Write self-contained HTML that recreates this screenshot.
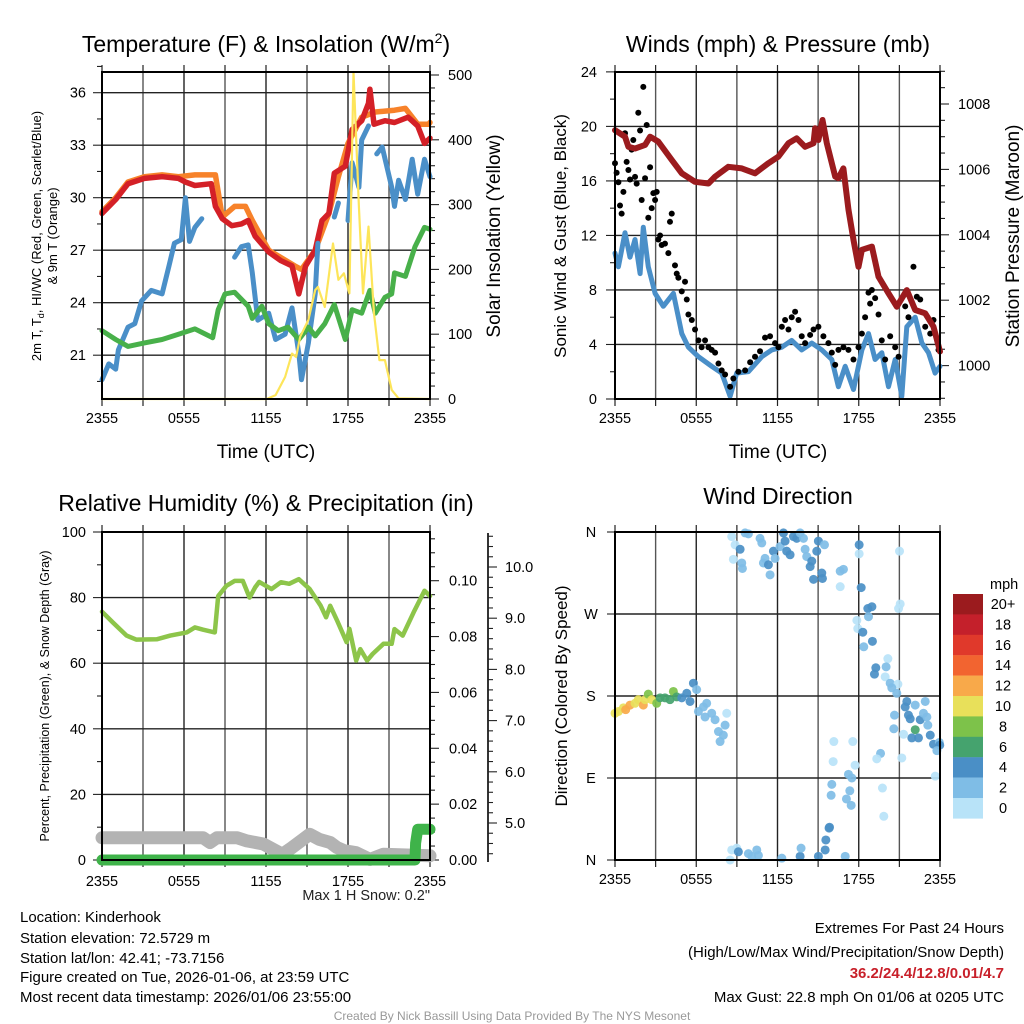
<!DOCTYPE html>
<html><head><meta charset="utf-8"><style>
html,body{margin:0;padding:0;background:#fff}
svg{display:block;font-family:"Liberation Sans",Arial,sans-serif}
</style></head><body>
<svg id="chart" xmlns="http://www.w3.org/2000/svg" width="1024" height="1024" viewBox="0 0 1024 1024">
<rect width="1024" height="1024" fill="#fff"/>
<g id="p1"></g>
<g id="p2"></g>
<g id="p3"></g>
<g id="p4"></g>
<text x="266" y="52" font-size="23" text-anchor="middle">Temperature (F) &amp; Insolation (W/m<tspan dy="-9" font-size="14">2</tspan><tspan dy="9">)</tspan></text>
<text x="778" y="52" font-size="23" text-anchor="middle">Winds (mph) &amp; Pressure (mb)</text>
<text x="266" y="511" font-size="23" text-anchor="middle">Relative Humidity (%) &amp; Precipitation (in)</text>
<text x="778" y="504" font-size="23" text-anchor="middle">Wind Direction</text>
<text x="266" y="458" font-size="19" text-anchor="middle">Time (UTC)</text>
<text x="778" y="458" font-size="19" text-anchor="middle">Time (UTC)</text>
<text transform="translate(41,236) rotate(-90)" font-size="13" text-anchor="middle"><tspan x="0" dy="0">2m T, T<tspan font-size="9" dy="3">d</tspan><tspan dy="-3">, HI/WC (Red, Green, Scarlet/Blue)</tspan></tspan><tspan x="0" dy="16">&amp; 9m T (Orange)</tspan></text>
<text transform="translate(500,236) rotate(-90)" font-size="19" text-anchor="middle">Solar Insolation (Yellow)</text>
<text transform="translate(566,236) rotate(-90)" font-size="17" text-anchor="middle">Sonic Wind &amp; Gust (Blue, Black)</text>
<text transform="translate(1019,236) rotate(-90)" font-size="19" text-anchor="middle">Station Pressure (Maroon)</text>
<text transform="translate(49,696) rotate(-90)" font-size="12.5" text-anchor="middle">Percent, Precipitation (Green), &amp; Snow Depth (Gray)</text>
<text transform="translate(567,696) rotate(-90)" font-size="17" text-anchor="middle">Direction (Colored By Speed)</text>
<text x="430" y="900" font-size="14.5" text-anchor="end" fill="#222">Max 1 H Snow: 0.2"</text>
<g font-size="15" fill="#000">
<text x="20" y="922">Location: Kinderhook</text>
<text x="20" y="943">Station elevation: 72.5729 m</text>
<text x="20" y="963">Station lat/lon: 42.41; -73.7156</text>
<text x="20" y="982">Figure created on Tue, 2026-01-06, at 23:59 UTC</text>
<text x="20" y="1002">Most recent data timestamp: 2026/01/06 23:55:00</text>
</g>
<g font-size="15" text-anchor="end">
<text x="1004" y="933">Extremes For Past 24 Hours</text>
<text x="1004" y="957">(High/Low/Max Wind/Precipitation/Snow Depth)</text>
<text x="1004" y="978" fill="#c8202a" font-weight="bold">36.2/24.4/12.8/0.01/4.7</text>
<text x="1004" y="1002">Max Gust: 22.8 mph On 01/06 at 0205 UTC</text>
</g>
<text x="512" y="1020" font-size="12" text-anchor="middle" fill="#999">Created By Nick Bassill Using Data Provided By The NYS Mesonet</text>
</svg>
<script>
// ---------- data ----------
const xTickLabels = ["2355","0555","1155","1755","2355"];
// Panel 1
const redH = [0,1,1.9,3.1,4.4,5.6,6.1,6.8,8.0,8.3,8.8,9.5,10.2,10.7,11.2,12.2,13.1,13.9,14.4,14.9,15.6,16.1,16.6,17.0,17.8,18.3,19.0,19.5,19.6,19.9,20.7,21.4,22.4,23.1,23.6,24];
const redT = [29.1,29.9,30.8,31.1,31.2,31.1,30.9,30.7,30.8,29.5,28.8,28.4,28.5,28.7,27.8,26.9,26.4,26.1,24.5,26.1,27.0,28.7,29.1,31.4,31.8,33.9,34.4,35.4,36.2,34.2,34.4,34.3,34.6,34.1,33.1,33.4];
const orangeH = [0,1,1.9,3.1,4.4,5.6,6.8,8.3,8.8,9.7,10.5,11.0,12.2,14.1,14.6,15.6,16.6,17.3,18.0,19.0,20.0,21.4,22.2,23.1,23.9,24];
const orangeT = [29.2,30.0,30.9,31.2,31.3,31.2,31.3,31.3,28.9,29.5,29.5,28.7,27.0,26.1,25.9,27.0,29.1,31.2,33.1,34.6,34.9,35.0,35.1,34.2,34.2,34.3];
const blueH = [0,0.5,1,1.2,1.9,2.4,2.9,3.6,4.4,4.9,5.3,5.8,6.1,6.4,6.8,7.3,null,9.7,10.2,10.7,11,11.4,12.2,12.7,13.4,13.9,14.4,14.6,15.1,15.6,15.8,null,17.0,17.3,null,18.0,18.3,18.8,19.0,19.5,null,20.1,20.5,21.2,21.4,21.7,22.2,22.7,23.1,23.6,24];
const blueT = [19.6,20.5,20.2,21.3,22.6,22.8,24.1,24.7,24.5,26.1,27.4,27.6,30.0,27.5,28.3,28.8,null,26.6,27.2,27.3,25.7,23.0,23.4,21.9,22.2,23.7,21.1,19.6,21.7,24.5,27.4,null,28.9,29.7,null,28.7,32.0,30.6,33.3,34.1,null,32.5,32.9,30.6,29.5,31.0,29.9,32.2,30.2,32.2,31.2];
const greenH = [0,1,1.9,3.1,4.4,5.6,6.8,8.1,8.5,9.0,9.7,10.2,10.7,11.0,11.7,12.2,12.9,13.6,14.4,15.1,15.6,16.3,17.0,17.8,18.3,19.0,19.6,20.0,20.7,21.2,21.4,22.2,22.9,23.6,24];
const greenT = [22.4,21.9,21.5,21.7,21.9,22.2,22.5,22.0,23.6,24.5,24.6,24.2,23.8,23.1,23.8,22.8,22.4,22.6,21.9,22.6,22.1,22.8,23.9,21.9,23.6,23.4,24.7,23.4,24.3,24.5,25.7,25.5,27.2,28.3,28.2];
const solarH = [0,12.05,12.7,13.4,13.9,14.2,14.5,15.1,15.6,15.8,16.3,16.9,17.3,17.7,18.1,18.4,18.8,19.1,19.5,19.9,20.3,20.7,21.2,21.7,24];
const solarW = [0,0,6,34,70,65,96,122,168,173,142,240,184,194,163,505,297,163,266,132,60,60,14,1,0];
// Panel 2
const windH = [0,0.25,0.74,1.11,1.48,1.85,2.09,2.46,2.96,3.57,4.31,4.93,5.42,6.16,7.14,7.88,8.5,8.99,9.85,10.84,11.58,12.32,13.05,13.79,14.53,15.27,16.01,16.5,17.0,17.61,18.23,18.72,19.21,19.7,20.2,20.69,21.18,21.55,22.17,22.66,23.15,23.64,24];
const windV = [10.7,9.7,12.2,10.4,11.7,9.2,12.6,9.7,7.75,6.8,7.75,4.8,3.8,3.1,2.4,1.9,0.2,1.9,2.0,3.1,3.6,3.8,4.3,3.6,4.1,3.6,2.9,0.9,2.4,0.7,3.6,4.8,2.9,3.4,0.9,2.9,0.2,5.3,6.0,4.1,3.4,1.9,2.4];
const gustH = [0,0.12,0.25,0.37,0.49,0.62,0.74,0.86,0.99,1.11,1.23,1.35,1.48,1.6,1.72,1.85,1.97,2.09,2.22,2.34,2.46,2.59,2.71,2.83,2.96,3.08,3.2,3.33,3.45,3.69,3.94,4.06,4.19,4.43,4.56,4.68,4.93,5.17,5.3,5.42,5.67,5.91,6.16,6.4,6.65,6.9,7.14,7.39,7.64,7.88,8.13,8.5,8.74,9.11,9.61,9.98,10.34,10.71,11.08,11.45,11.82,12.07,12.32,12.56,12.81,13.05,13.3,13.55,13.79,14.04,14.41,14.66,15.02,15.39,15.76,16.01,16.26,16.5,16.87,17.24,17.61,17.98,18.23,18.47,18.72,18.84,18.97,19.21,19.46,19.7,19.95,20.32,20.69,20.94,21.43,21.55,21.67,22.04,22.29,22.54,22.91,23.28,23.52,23.89];
const gustV = [17.3,16.6,15.9,14.2,13.6,15.2,19.5,17.4,16.8,16.1,18.3,19.0,16.3,15.8,21.0,19.7,14.6,22.9,16.2,20.1,13.3,17.0,14.0,15.1,14.6,15.2,11.7,12.0,11.3,11.4,10.7,13.0,13.6,9.8,9.2,8.9,7.9,8.6,7.3,6.2,5.8,5.1,4.3,3.8,4.3,3.8,3.6,3.4,2.6,2.1,1.8,0.9,1.5,2.0,2.1,2.7,3.1,3.5,4.5,4.6,4.1,3.8,5.3,5.8,5.1,6.0,6.4,5.8,4.6,4.1,4.7,5.1,5.3,4.6,4.1,3.4,2.5,3.6,3.8,3.6,2.9,3.8,4.8,6.0,7.8,7.0,8.0,7.4,6.2,4.3,2.9,4.6,3.8,3.1,6.8,7.8,6.0,9.7,7.5,7.3,5.3,4.8,5.8,3.6];
const presH = [0,0.74,0.99,1.48,2.22,2.59,3.2,4.19,4.93,5.91,6.9,7.39,8.37,9.36,10.34,11.33,12.07,12.81,13.42,14.04,14.66,14.78,15.02,15.32,15.64,16.26,16.5,16.87,17.24,17.61,17.98,18.23,18.97,19.46,20.2,20.81,21.55,22.17,22.91,23.52,24];
const presP = [1007.2,1007.0,1006.69,1006.64,1006.75,1007.0,1006.85,1006.29,1005.88,1005.62,1005.57,1005.78,1006.08,1006.03,1005.88,1006.19,1006.39,1006.8,1006.95,1006.69,1006.8,1007.26,1006.9,1007.51,1006.8,1005.78,1005.73,1006.03,1004.76,1003.84,1003.02,1003.54,1003.64,1002.72,1002.21,1001.8,1002.31,1001.7,1001.6,1001.19,1000.43];
// Panel 3
const rhH = [0,0.8,1.8,2.5,4.0,5.0,6.2,6.8,7.4,8.25,8.5,9.1,9.7,10.3,10.8,11.2,11.5,12.4,13.1,13.7,14.4,15.2,16.0,16.4,16.7,17.2,17.9,18.1,18.6,18.9,19.4,19.8,20.6,21.2,21.4,22.0,22.8,23.6,24];
const rhV = [75.7,72.4,68.4,67.2,67.3,68.4,69.4,70.9,70.2,69.4,80.5,83.6,85.1,85.1,80.0,83.1,84.8,82.6,84.7,84.2,85.6,82.6,77.5,74.0,77.5,73.0,66.4,70.5,60.8,64.3,60.8,62.8,65.9,65.9,70.4,68.4,75.5,82.1,80.5];
const snowH = [0,7.4,7.9,8.4,9.9,10.6,11.8,12.5,13.2,13.9,14.7,15.2,15.9,16.7,17.2,17.7,18.6,19.6,20.6,24];
const snowV = [4.71,4.71,4.62,4.71,4.71,4.65,4.59,4.49,4.39,4.52,4.68,4.78,4.68,4.62,4.52,4.46,4.42,4.29,4.39,4.36];
const precipH = [0,22.9,22.95,23.1,24];
const precipV = [0,0,0.006,0.011,0.011];
// Panel 4
const dirH = [0,0.25,0.62,0.79,1.11,1.48,1.72,2.09,2.22,2.46,2.71,3.08,3.33,3.69,4.06,4.31,4.56,4.93,5.3,5.54,5.79,6.03,6.16,6.53,6.77,6.65,7.14,7.39,7.64,7.76,8.0,8.13,8.25,
 8.5,8.62,8.99,9.11,9.85,10.1,10.47,10.59,12.32,13.67,13.74,15.02,15.52,15.57,15.81,17.0,
 8.62,8.87,8.74,9.24,9.36,9.41,9.61,9.85,10.71,10.84,10.96,11.08,11.33,11.45,11.7,11.82,12.19,12.44,12.56,12.68,12.93,13.18,13.42,13.67,13.92,14.04,14.16,14.41,14.53,14.66,14.9,15.02,15.27,15.32,15.47,16.63,16.87,16.63,18.03,18.03,18.18,21.01,
 18.67,18.97,18.72,17.86,17.93,18.3,19.01,18.37,21.06,20.94,20.15,20.02,19.26,19.16,19.95,20.32,20.89,20.44,20.81,21.55,21.43,22.17,22.91,20.64,21.67,21.8,22.54,22.78,23.03,23.1,20.59,21.31,22.17,21.92,22.41,23.28,23.52,23.95,23.98,23.77,23.65,
 16.16,17.56,16.11,17.73,17.24,17.49,19.61,19.33,21.18,16.01,15.96,17.34,17.09,17.44,19.75,19.85,15.84];
const dirDeg = [161,163,167,165,170,172,176,170,176,182,176,172,178,178,176,185,179,178,183,174,194,187,163,168,172,157,161,154,141,130,137,148,161,
 0,11,13,9,7,4,11,5,2,4,13,4,11,22,35,4,
 355,346,330,341,326,320,359,358,353,348,326,331,324,313,339,331,344,359,350,339,335,355,353,359,353,341,333,322,328,308,339,350,315,309,346,317,319,300,346,336,299,339,
 276,278,267,263,254,250,240,234,281,276,221,212,211,204,201,194,193,189,183,174,168,170,174,159,159,155,154,161,157,148,144,138,143,134,134,137,127,129,126,120,92,
 130,130,108,104,94,90,117,111,112,83,71,76,67,60,79,48,36];
const dirSpd = [10,10,10,12,12,10,10,12,10,8,10,8,6,6,6,8,6,4,4,4,4,2,2,2,2,2,2,2,2,2,2,2,0,
 0,0,0,4,2,2,2,2,2,4,2,4,4,4,4,2,
 0,0,0,4,2,2,2,2,2,2,2,2,4,2,4,2,2,4,4,4,4,4,4,2,2,2,2,4,4,4,4,4,4,4,2,2,2,0,4,0,4,0,
 4,4,2,0,0,4,4,2,0,0,0,2,4,4,0,2,0,2,2,4,4,2,2,2,4,4,4,2,2,2,2,0,6,4,4,4,4,2,4,2,0,
 0,0,0,0,2,2,2,0,0,2,2,2,2,2,0,0,4];
const cbLabels = ["20+","18","16","14","12","10","8","6","4","2","0"];
const cbColors = ["#9b1b1e","#c4202b","#e0392b","#f26430","#f8a94a","#e8e05a","#7dc24a","#45a36e","#4a8fc6","#7fbde6","#b8e3f8"];

// ---------- helpers ----------
const NS="http://www.w3.org/2000/svg";
function mk(tag, attrs, parent){const e=document.createElementNS(NS,tag);for(const k in attrs)e.setAttribute(k,attrs[k]);parent.appendChild(e);return e;}
function linePath(hs, vs, sx, sy){let d="",pen=false;for(let i=0;i<hs.length;i++){if(hs[i]===null||vs[i]===null){pen=false;continue;}d+=(pen?"L":"M")+sx(hs[i]).toFixed(1)+","+sy(vs[i]).toFixed(1);pen=true;}return d;}
function panelFrame(g, X0,X1,Y0,Y1, lblOff){
  for(let h=3;h<24;h+=3){const l=mk("line",{x1:X0+h/24*(X1-X0),x2:X0+h/24*(X1-X0),y1:Y0,y2:Y1,stroke:(h%6==0)?"#222":"#555","stroke-width":1.4},g);
    
    }
  for(let h=0;h<=24;h+=3){const x=X0+h/24*(X1-X0);
    mk("line",{x1:x,x2:x,y1:Y1,y2:Y1+7,stroke:"#222","stroke-width":1.2},g);
    mk("line",{x1:x,x2:x,y1:Y0,y2:Y0-7,stroke:"#222","stroke-width":1.2},g);}
  for(let i=0;i<xTickLabels.length;i++){const t=mk("text",{x:X0+i*6/24*(X1-X0),y:Y1+(lblOff||24),"font-size":14.5,"text-anchor":"middle"},g);t.textContent=xTickLabels[i];
    
    }
}
function yAxis(g, x, side, sy, lo, hi, major, minor, fmt, Y0, Y1, labelX, hgrid, X0, X1){
  for(let v=lo; v<=hi+1e-9; v+=minor){const y=sy(v); if(y<Y0-10||y>Y1+0.5)continue;
    const isMaj=Math.abs(Math.round(v/major)*major - v)<1e-6;
    const len=isMaj?9:5;
    mk("line",{x1:x,x2:x+side*len,y1:y,y2:y,stroke:"#222","stroke-width":1.1},g);
    if(isMaj){
      if(hgrid && y>Y0+1 && y<Y1-1){const gl=mk("line",{x1:X0,x2:X1,y1:y,y2:y,stroke:"#222","stroke-width":1.4},g);
        
        }
      if(fmt){const t=mk("text",{x:labelX,y:y+5,"font-size":14.5,"text-anchor":side<0?"end":"start"},g);t.textContent=fmt(v);
        
        }
    }
  }
}

// ---------- Panel 1 ----------
(function(){
  const g=document.getElementById("p1"); const X0=102,X1=430,Y0=72,Y1=399;
  const sx=h=>X0+h/24*(X1-X0), sT=t=>92.7+(36-t)*17.5, sW=w=>Math.max(72,399-w*0.648);
  panelFrame(g,X0,X1,Y0,Y1);
  yAxis(g,X0,-1,sT,18,37.5,3,1.5,v=>String(Math.round(v)),Y0,Y1,86,true,X0,X1);
  yAxis(g,X1,1,sW,0,500,100,20,v=>String(Math.round(v)),Y0,Y1,448,false);
  const series=[[orangeH,orangeT,"#f7822a",5.5,sT,"orange-9m-temp-line"],[redH,redT,"#d42027",5.5,sT,"red-2m-temp-line"],[blueH,blueT,"#4a8fc8",5,sT,"blue-wind-chill-line"],[greenH,greenT,"#48b04a",5,sT,"green-dewpoint-line"],[solarH,solarW,"#fde55a",2.2,sW,"yellow-solar-line"]];
  for(const s of series){const p=mk("path",{d:linePath(s[0],s[1],sx,s[4]),fill:"none",stroke:s[2],"stroke-width":s[3],"stroke-linejoin":"round","stroke-linecap":"round"},g);
    
    }
  mk("rect",{x:X0,y:Y0,width:X1-X0,height:Y1-Y0,fill:"none",stroke:"#000","stroke-width":2},g);
})();

// ---------- Panel 2 ----------
(function(){
  const g=document.getElementById("p2"); const X0=615,X1=940,Y0=72,Y1=399;
  const sx=h=>X0+h/24*(X1-X0), sV=v=>399-v*13.63, sP=p=>104+(1008-p)*32.7;
  panelFrame(g,X0,X1,Y0,Y1);
  yAxis(g,X0,-1,sV,0,24,4,2,v=>String(Math.round(v)),Y0,Y1,597,true,X0,X1);
  yAxis(g,X1,1,sP,999,1009,2,0.5,v=>String(Math.round(v)),Y0,Y1,958,false);
  const bl=mk("path",{d:linePath(windH,windV,sx,sV),fill:"none",stroke:"#4a8fc8","stroke-width":5,"stroke-linejoin":"round","stroke-linecap":"round"},g);
  
  
  for(let i=0;i<gustH.length;i++){const c=mk("circle",{cx:sx(gustH[i]),cy:sV(gustV[i]),r:3,fill:"#000"},g);
    
    }
  const pl=mk("path",{d:linePath(presH,presP,sx,sP),fill:"none",stroke:"#9b1b1e","stroke-width":6,"stroke-linejoin":"round","stroke-linecap":"round"},g);
  
  
  mk("rect",{x:X0,y:Y0,width:X1-X0,height:Y1-Y0,fill:"none",stroke:"#000","stroke-width":2},g);
})();

// ---------- Panel 3 ----------
(function(){
  const g=document.getElementById("p3"); const X0=102,X1=430,Y0=532,Y1=860;
  const sx=h=>X0+h/24*(X1-X0), sR=v=>860-v*3.28, sPr=p=>860-p*2793, sS=s=>823-(s-5)*51.2;
  panelFrame(g,X0,X1,Y0,Y1,26);
  yAxis(g,X0,-1,sR,0,100,20,10,v=>String(Math.round(v)),Y0,Y1,86,true,X0,X1);
  yAxis(g,X1,1,sPr,0,0.115,0.02,0.005,v=>v.toFixed(2),Y0,Y1,449,false);
  mk("line",{x1:488,x2:488,y1:533,y2:862,stroke:"#000","stroke-width":1.6},g);
  yAxis(g,488,1,sS,4.4,10.6,1,0.2,v=>v.toFixed(1),Y0,Y1,505,false);
  const sn=mk("path",{d:linePath(snowH,snowV,sx,sS),fill:"none",stroke:"#b3b3b3","stroke-width":13,"stroke-linejoin":"round","stroke-linecap":"round"},g);
  
  
  const pr=mk("path",{d:linePath(precipH,precipV,sx,sPr),fill:"none",stroke:"#3fb34a","stroke-width":11,"stroke-linejoin":"round","stroke-linecap":"round"},g);
  
  
  const rh=mk("path",{d:linePath(rhH,rhV,sx,sR),fill:"none",stroke:"#8dc54a","stroke-width":4.5,"stroke-linejoin":"round","stroke-linecap":"round"},g);
  
  
  mk("rect",{x:X0,y:Y0,width:X1-X0,height:Y1-Y0,fill:"none",stroke:"#000","stroke-width":2},g);
})();

// ---------- Panel 4 ----------
(function(){
  const g=document.getElementById("p4"); const X0=615,X1=940,Y0=532,Y1=860;
  const sx=h=>X0+h/24*(X1-X0), sD=d=>860-d/360*328;
  panelFrame(g,X0,X1,Y0,Y1);
  const dl=["N","E","S","W","N"];
  for(let i=0;i<5;i++){const y=sD(i*90);
    if(i>0&&i<4){const gl=mk("line",{x1:X0,x2:X1,y1:y,y2:y,stroke:"#222","stroke-width":1.4},g);
      
      }
    mk("line",{x1:X0,x2:X0-8,y1:y,y2:y,stroke:"#222","stroke-width":1.1},g);
    const t=mk("text",{x:591,y:y+5,"font-size":14.5,"text-anchor":"middle"},g);t.textContent=dl[i];
    
    }
  for(let i=0;i<dirH.length;i++){const ci=10-Math.min(10,Math.floor(dirSpd[i]/2));
    const c=mk("circle",{cx:sx(dirH[i]),cy:sD(dirDeg[i]),r:4.5,fill:cbColors[ci],"fill-opacity":0.92},g);
    
    }
  mk("rect",{x:X0,y:Y0,width:X1-X0,height:Y1-Y0,fill:"none",stroke:"#000","stroke-width":2},g);
  const ct=mk("text",{x:990,y:589,"font-size":14.5},g);ct.textContent="mph";
  
  
  for(let i=0;i<cbColors.length;i++){const y=594+i*20.4;
    const r=mk("rect",{x:953,y:y,width:30,height:20.6,fill:cbColors[i]},g);
    
    
    const t=mk("text",{x:1003,y:y+15,"font-size":14.5,"text-anchor":"middle"},g);t.textContent=cbLabels[i];
    
    }
})();
</script>
</body></html>
